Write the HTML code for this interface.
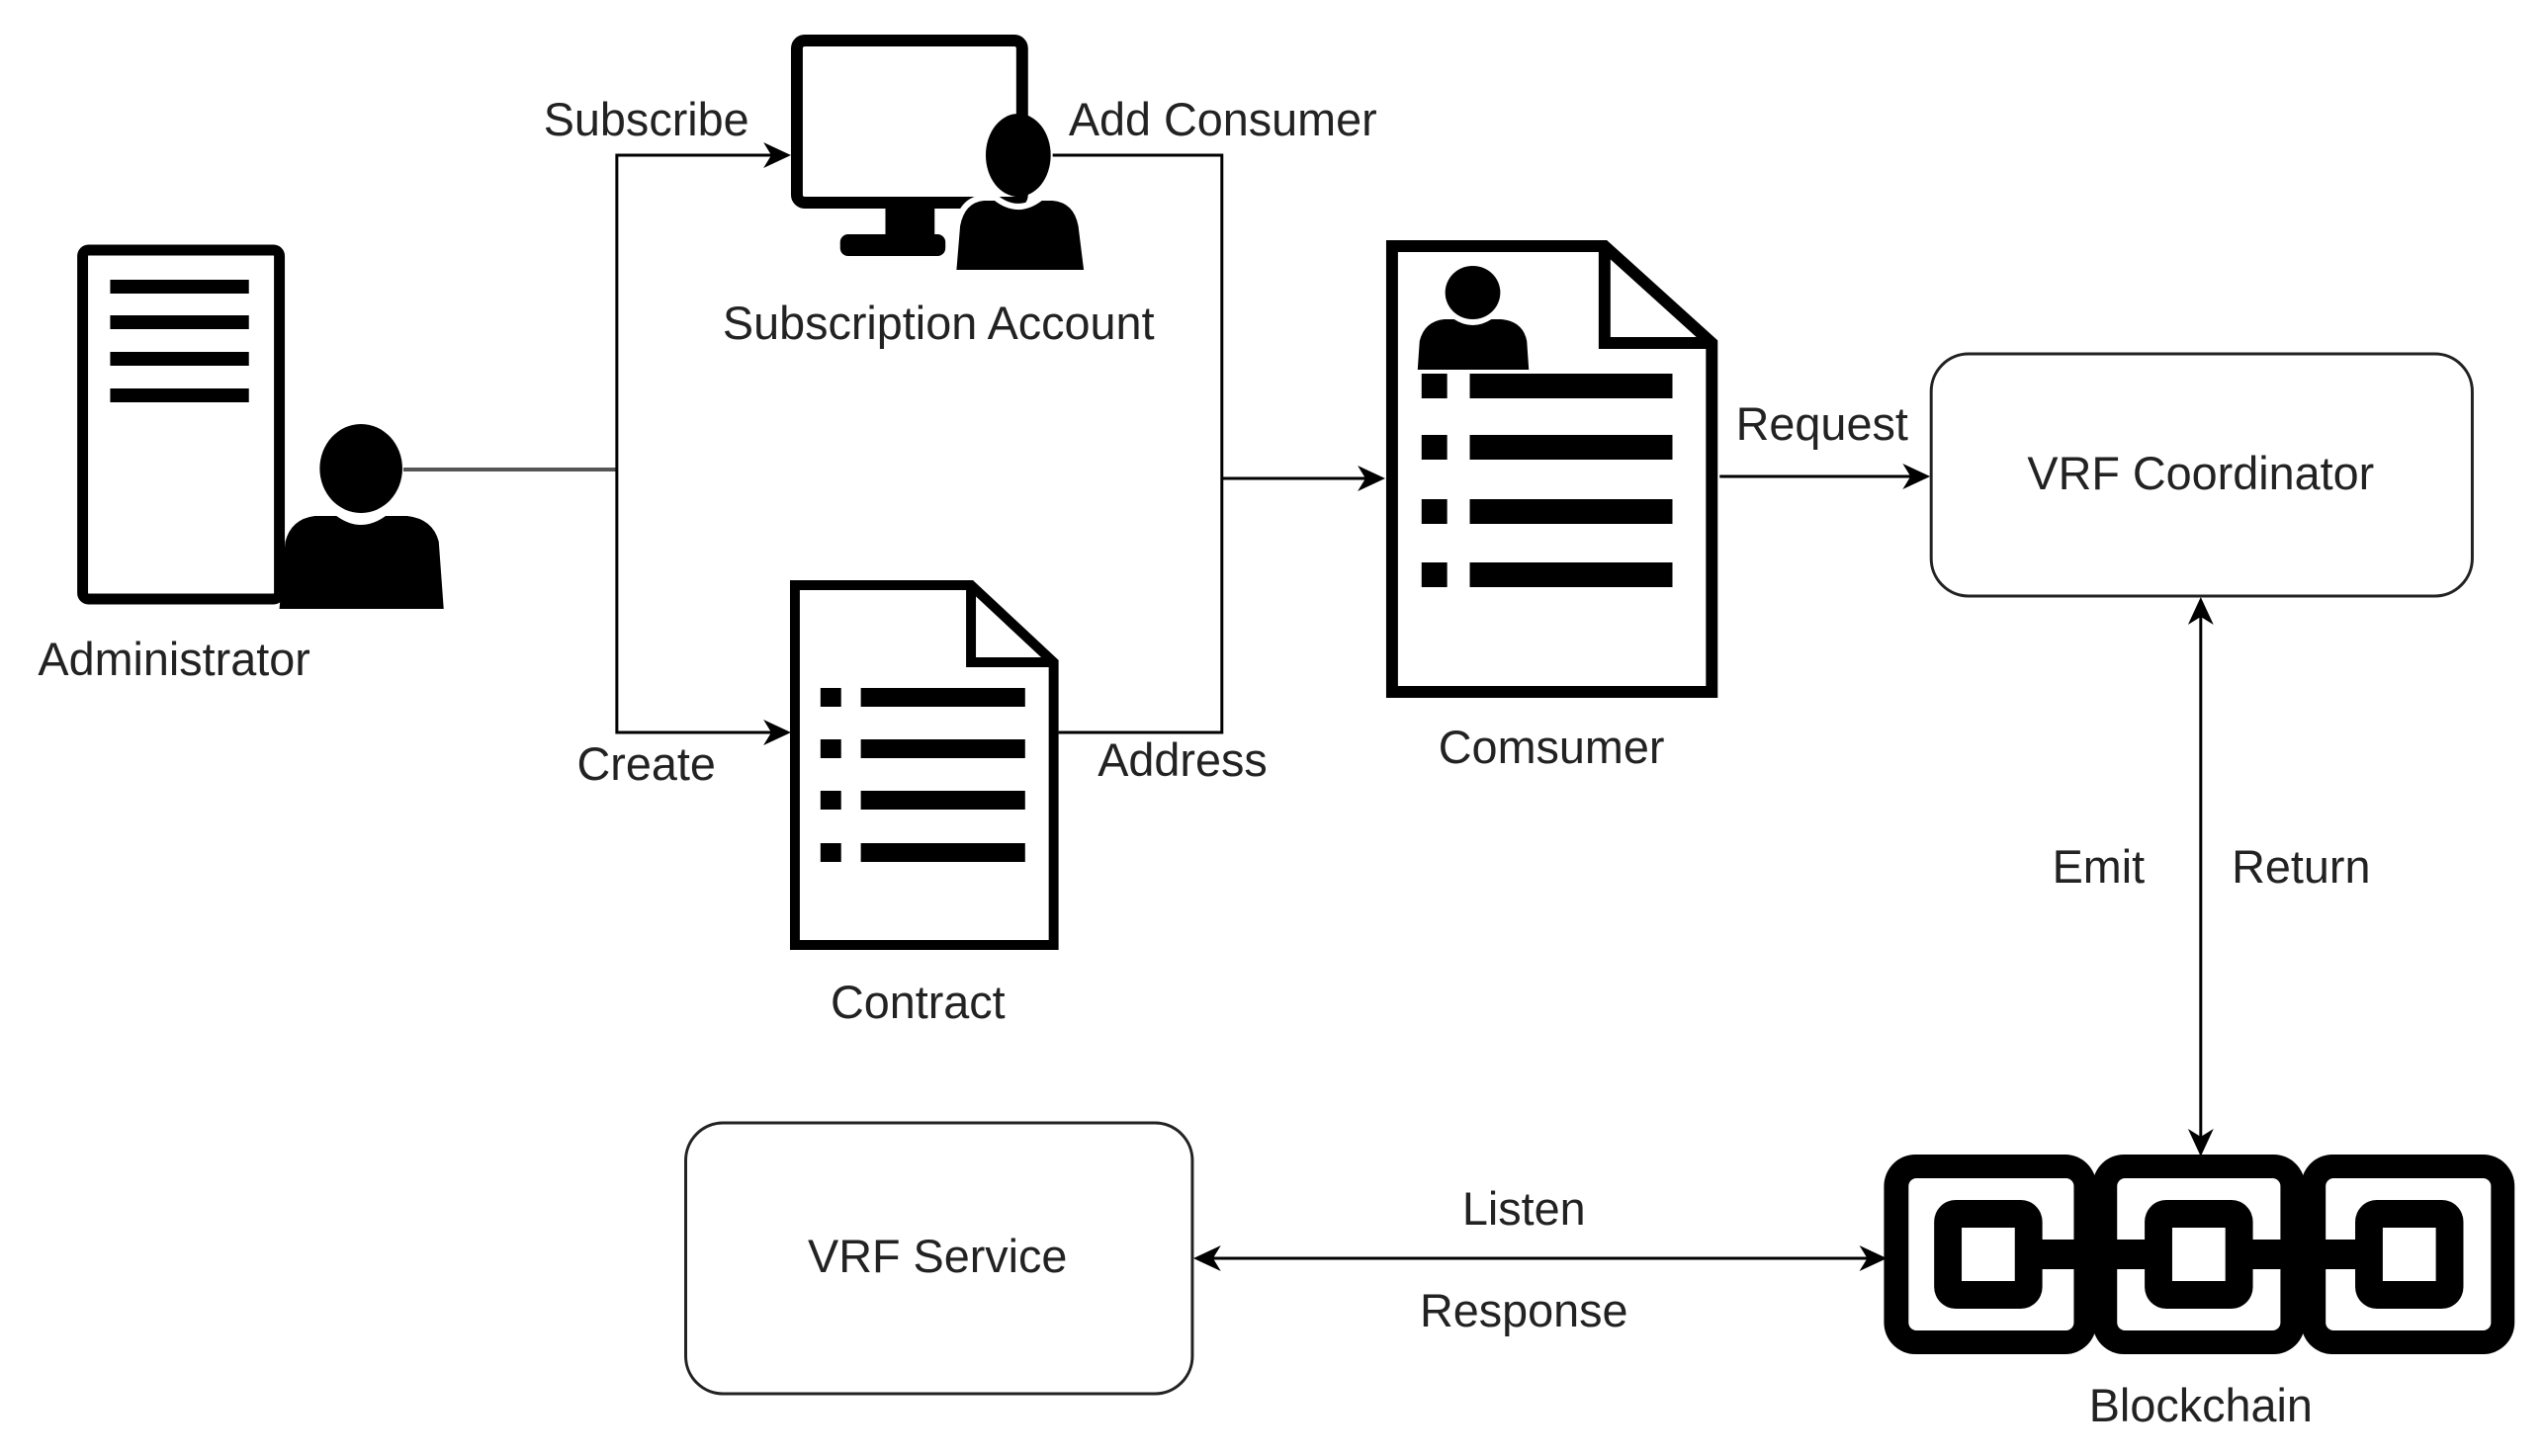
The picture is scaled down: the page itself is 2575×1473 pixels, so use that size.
<!DOCTYPE html>
<html><head><meta charset="utf-8"><style>
html,body{margin:0;padding:0;background:#fff;}
svg{display:block}
text{font-family:"Liberation Sans",Arial,sans-serif;font-size:47px;fill:#222;text-anchor:middle;dominant-baseline:central}
</style></head><body>
<svg width="2575" height="1473" viewBox="0 0 2575 1473" xmlns="http://www.w3.org/2000/svg">
<g transform="scale(0.995,1)">
<g fill="none" stroke="#000" stroke-width="3">
  <line x1="410" y1="475" x2="627" y2="475" stroke="#555" stroke-width="4"/>
  <polyline points="627,475 627,157 800,157"/>
  <polyline points="627,475 627,741 800,741"/>
  <polyline points="1070,157 1242,157 1242,741 1076,741"/>
  <line x1="1242" y1="484" x2="1404" y2="484"/>
  <line x1="1748" y1="482" x2="1958" y2="482"/>
  <line x1="2237" y1="610" x2="2237" y2="1166"/>
  <line x1="1218" y1="1273" x2="1914" y2="1273"/>
</g>
<g fill="#000">
  <path d="M804,157 l-28,-13 l8,13 l-8,13z"/>
  <path d="M804,741 l-28,-13 l8,13 l-8,13z"/>
  <path d="M1408,484 l-28,-13 l8,13 l-8,13z"/>
  <path d="M1962,482 l-28,-13 l8,13 l-8,13z"/>
  <path d="M2237,604 l-13,28 l13,-8 l13,8z"/>
  <path d="M2237,1170 l-13,-28 l13,8 l13,-8z"/>
  <path d="M1213,1273 l28,-13 l-8,13 l8,13z"/>
  <path d="M1918,1273 l-28,-13 l8,13 l-8,13z"/>
</g>
<rect x="84" y="253" width="200" height="353" rx="6" fill="#fff" stroke="#000" stroke-width="11"/>
<g fill="#000">
  <rect x="112" y="283" width="141" height="14"/>
  <rect x="112" y="319" width="141" height="14"/>
  <rect x="112" y="356" width="141" height="14"/>
  <rect x="112" y="393" width="141" height="14"/>
  <ellipse cx="367" cy="474" rx="42" ry="45"/>
  <path d="M284,616 L290,548 Q296,525 320,522 L342,522 Q367,540 392,522 L414,522 Q440,525 446,548 L451,616z"/>
</g>
<rect x="810" y="41" width="229" height="164" rx="8" fill="#fff" stroke="#000" stroke-width="12"/>
<g fill="#000">
  <rect x="900" y="205" width="50" height="34"/>
  <rect x="854" y="237" width="107" height="22" rx="8"/>
</g>
<rect x="1000" y="128" width="65" height="40" fill="#fff"/>
<g fill="#000">
  <ellipse cx="1035" cy="157" rx="33" ry="42"/>
  <path d="M969,276 L973,228 Q978,202 1000,200 L1012,200 Q1035,218 1058,200 L1070,200 Q1094,202 1099,228 L1105,276z" stroke="#fff" stroke-width="6"/>
</g>
<path d="M808,592 L987,592 L1071,670 L1071,956 L808,956z" fill="#fff" stroke="#000" stroke-width="10"/>
<path d="M987,592 L987,670 L1071,670" fill="none" stroke="#000" stroke-width="10"/>
<g fill="#000">
  <rect x="834" y="696" width="21" height="19"/><rect x="875" y="696" width="167" height="19"/>
  <rect x="834" y="748" width="21" height="19"/><rect x="875" y="748" width="167" height="19"/>
  <rect x="834" y="800" width="21" height="19"/><rect x="875" y="800" width="167" height="19"/>
  <rect x="834" y="853" width="21" height="19"/><rect x="875" y="853" width="167" height="19"/>
</g>
<path d="M1415,249 L1631,249 L1740,347 L1740,700 L1415,700z" fill="#fff" stroke="#000" stroke-width="12"/>
<path d="M1631,249 L1631,347 L1740,347" fill="none" stroke="#000" stroke-width="12"/>
<g fill="#000">
  <ellipse cx="1497" cy="296" rx="28" ry="27"/>
  <path d="M1441,374 L1443,345 Q1448,325 1468,323 L1478,323 Q1497,335 1516,323 L1526,323 Q1548,325 1552,345 L1554,374z"/>
  <rect x="1445" y="378" width="26" height="25"/><rect x="1494" y="378" width="206" height="25"/>
  <rect x="1445" y="440" width="26" height="25"/><rect x="1494" y="440" width="206" height="25"/>
  <rect x="1445" y="505" width="26" height="25"/><rect x="1494" y="505" width="206" height="25"/>
  <rect x="1445" y="569" width="26" height="25"/><rect x="1494" y="569" width="206" height="25"/>
</g>
<rect x="1963" y="358" width="550" height="245" rx="38" fill="#fff" stroke="#222" stroke-width="3"/>
<rect x="697" y="1136" width="515" height="274" rx="38" fill="#fff" stroke="#222" stroke-width="3"/>
<g>
  <rect x="1915" y="1168" width="216" height="202" rx="32" fill="#000"/>
  <rect x="2127" y="1168" width="216" height="202" rx="32" fill="#000"/>
  <rect x="2339" y="1168" width="217" height="202" rx="32" fill="#000"/>
  <rect x="1940" y="1192" width="168" height="154" rx="8" fill="#fff"/>
  <rect x="2152" y="1192" width="166" height="154" rx="8" fill="#fff"/>
  <rect x="2364" y="1192" width="168" height="154" rx="8" fill="#fff"/>
  <rect x="2050" y="1254" width="420" height="30" fill="#000"/>
  <rect x="1966" y="1214" width="110" height="110" rx="22" fill="#000"/>
  <rect x="2180" y="1214" width="110" height="110" rx="22" fill="#000"/>
  <rect x="2394" y="1214" width="110" height="110" rx="22" fill="#000"/>
  <rect x="1994" y="1242" width="54" height="54" fill="#fff"/>
  <rect x="2208" y="1242" width="54" height="54" fill="#fff"/>
  <rect x="2422" y="1242" width="54" height="54" fill="#fff"/>
</g>
<text x="657" y="121">Subscribe</text>
<text x="1243" y="121">Add Consumer</text>
<text x="954" y="327">Subscription Account</text>
<text x="177" y="667">Administrator</text>
<text x="657" y="773">Create</text>
<text x="1202" y="769">Address</text>
<text x="933" y="1014">Contract</text>
<text x="1577" y="756">Comsumer</text>
<text x="1852" y="429">Request</text>
<text x="2237" y="479">VRF Coordinator</text>
<text x="2133" y="877">Emit</text>
<text x="2339" y="877">Return</text>
<text x="953" y="1271">VRF Service</text>
<text x="1549" y="1223">Listen</text>
<text x="1549" y="1326">Response</text>
<text x="2237" y="1422">Blockchain</text>
</g>
</svg>
</body></html>
